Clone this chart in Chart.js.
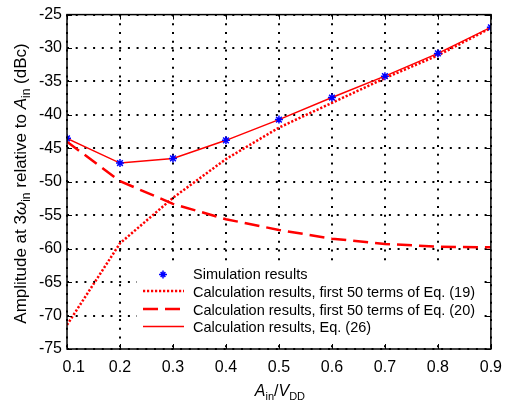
<!DOCTYPE html>
<html>
<head>
<meta charset="utf-8">
<script src="https://cdn.jsdelivr.net/npm/chart.js@4"></script>
<style>
html,body{margin:0;padding:0;background:#fff;}
canvas{display:block;}
</style>
</head>
<body>
<canvas id="c" width="511" height="403"></canvas>
<script>
// ---- data ----
const xValues = [0.1, 0.2, 0.3, 0.4, 0.5, 0.6, 0.7, 0.8, 0.9];
const simulation = [-43.5, -47.2, -46.5, -43.8, -40.7, -37.4, -34.2, -30.8, -26.9];
const eq19 = [-71.4, -59.2, -52.4, -46.6, -41.9, -38.2, -34.5, -31.1, -27.0];
const eq20 = [-44.0, -49.9, -53.3, -55.6, -57.2, -58.5, -59.3, -59.7, -59.8];
const eq26 = [-43.5, -47.2, -46.5, -43.8, -40.7, -37.4, -34.2, -30.8, -26.9];
const xTicks = [0.1, 0.2, 0.3, 0.4, 0.5, 0.6, 0.7, 0.8, 0.9];
const xTickLabels = ['0.1', '0.2', '0.3', '0.4', '0.5', '0.6', '0.7', '0.8', '0.9'];
const yTicks = [-75, -70, -65, -60, -55, -50, -45, -40, -35, -30, -25];
const yTickLabels = ['-75', '-70', '-65', '-60', '-55', '-50', '-45', '-40', '-35', '-30', '-25'];
const legendLabels = [
  'Simulation results',
  'Calculation results, first 50 terms of Eq. (19)',
  'Calculation results, first 50 terms of Eq. (20)',
  'Calculation results, Eq. (26)'
];

const FONT = '"Liberation Sans", Arial, sans-serif';
const pts = (ys) => xValues.map((x, i) => ({x: x, y: ys[i]}));

function drawRich(ctx, parts, x, y, align, size) {
  const sub = Math.round(size * 0.68);
  const fontFor = (s) => s === 'i' ? 'italic ' + size + 'px ' + FONT : (s === 's' ? sub + 'px ' + FONT : size + 'px ' + FONT);
  let total = 0;
  parts.forEach(p => { ctx.font = fontFor(p.style); p.w = ctx.measureText(p.t).width; total += p.w; });
  let cx = align === 'center' ? x - total / 2 : x;
  ctx.textAlign = 'left';
  ctx.textBaseline = 'alphabetic';
  parts.forEach(p => {
    ctx.font = fontFor(p.style);
    ctx.fillText(p.t, cx, y + (p.style === 's' ? size * 0.25 : 0));
    cx += p.w;
  });
}

const decorPlugin = {
  id: 'decor',
  afterDatasetsDraw(chart) {
    const ctx = chart.ctx;
    const ca = chart.chartArea;
    const xs = chart.scales.x, ys = chart.scales.y;
    ctx.save();
    // legend box
    const lx = 137, ly = 262, lw = 346, lh = 78;
    ctx.fillStyle = '#fff';
    ctx.fillRect(lx, ly, lw, lh);
    const rowY = [274.5, 292.5, 310.5, 328];
    const ds = chart.data.datasets;
    for (let i = 0; i < 4; i++) {
      const d = ds[i];
      const y = rowY[i];
      if (i === 0) {
        ctx.strokeStyle = d.borderColor;
        ctx.lineWidth = 1.5;
        ctx.setLineDash([]);
        const r = 4;
        ctx.beginPath();
        ctx.moveTo(163, y - r); ctx.lineTo(163, y + r);
        ctx.moveTo(163 - r, y); ctx.lineTo(163 + r, y);
        const q = r * 0.6;
        ctx.moveTo(163 - q, y - q); ctx.lineTo(163 + q, y + q);
        ctx.moveTo(163 - q, y + q); ctx.lineTo(163 + q, y - q);
        ctx.stroke();
      } else {
        ctx.strokeStyle = d.borderColor;
        ctx.lineWidth = d.borderWidth;
        ctx.setLineDash(d.borderDash || []);
        ctx.beginPath();
        ctx.moveTo(143, y - 1.5); ctx.lineTo(184, y - 1.5);
        ctx.stroke();
      }
      ctx.setLineDash([]);
      ctx.fillStyle = '#000';
      ctx.font = '14.5px ' + FONT;
      ctx.textAlign = 'left';
      ctx.textBaseline = 'middle';
      ctx.fillText(legendLabels[i], 193, y);
    }
    // box
    ctx.strokeStyle = '#000';
    ctx.lineWidth = 1.5;
    ctx.setLineDash([]);
    ctx.strokeRect(ca.left, ca.top, ca.right - ca.left, ca.bottom - ca.top);
    // inner ticks
    ctx.lineWidth = 1;
    ctx.beginPath();
    xTicks.forEach(v => {
      const px = Math.round(xs.getPixelForValue(v)) + 0.5;
      ctx.moveTo(px, ca.bottom); ctx.lineTo(px, ca.bottom - 5);
      ctx.moveTo(px, ca.top); ctx.lineTo(px, ca.top + 5);
    });
    yTicks.forEach(v => {
      const py = Math.round(ys.getPixelForValue(v)) + 0.5;
      ctx.moveTo(ca.left, py); ctx.lineTo(ca.left + 5, py);
      ctx.moveTo(ca.right, py); ctx.lineTo(ca.right - 5, py);
    });
    ctx.stroke();
    // axis titles
    ctx.fillStyle = '#000';
    drawRich(ctx, [
      {t: 'A', style: 'i'}, {t: 'in', style: 's'}, {t: '/', style: 'n'},
      {t: 'V', style: 'i'}, {t: 'DD', style: 's'}
    ], (ca.left + ca.right) / 2 + 1, 396, 'center', 16);
    ctx.save();
    ctx.translate(26, 183.5);
    ctx.rotate(-Math.PI / 2);
    drawRich(ctx, [
      {t: 'Amplitude at 3', style: 'n'}, {t: 'ω', style: 'i'}, {t: 'in', style: 's'},
      {t: ' relative to ', style: 'n'}, {t: 'A', style: 'i'}, {t: 'in', style: 's'},
      {t: ' (dBc)', style: 'n'}
    ], 0, 0, 'center', 17);
    ctx.restore();
    ctx.restore();
  }
};

new Chart(document.getElementById('c'), {
  type: 'line',
  data: {
    datasets: [
      {
        label: legendLabels[0], data: pts(simulation), showLine: false,
        pointStyle: 'star', pointRadius: 4, pointBorderWidth: 1.5,
        borderColor: '#0000ff', backgroundColor: '#0000ff'
      },
      {
        label: legendLabels[1], data: pts(eq19), borderColor: '#ff0000',
        borderWidth: 2.5, borderDash: [2.2, 1.8], pointRadius: 0, fill: false, tension: 0
      },
      {
        label: legendLabels[2], data: pts(eq20), borderColor: '#ff0000',
        borderWidth: 2.5, borderDash: [15, 7], pointRadius: 0, fill: false, tension: 0
      },
      {
        label: legendLabels[3], data: pts(eq26), borderColor: '#ff0000',
        borderWidth: 1.5, pointRadius: 0, fill: false, tension: 0
      }
    ]
  },
  options: {
    responsive: false,
    animation: false,
    devicePixelRatio: 1,
    layout: {padding: {left: 0, right: 13, top: 12, bottom: 0}},
    plugins: {legend: {display: false}, tooltip: {enabled: false}, title: {display: false}},
    scales: {
      x: {
        type: 'linear', min: 0.1, max: 0.9,
        afterBuildTicks: (s) => { s.ticks = xTicks.map(v => ({value: v})); },
        afterFit: (s) => { s.height = 54; },
        ticks: {
          color: '#000', font: {family: FONT, size: 16}, padding: 9, maxRotation: 0, autoSkip: false,
          callback: (v, i) => (i === 0 ? '   ' : '') + xTickLabels[i]
        },
        grid: {color: '#000', lineWidth: 2, drawTicks: false},
        border: {display: false, dash: [2, 6.7]}
      },
      y: {
        type: 'linear', min: -75, max: -25,
        afterBuildTicks: (s) => { s.ticks = yTicks.map(v => ({value: v})); },
        afterFit: (s) => { s.width = 67; },
        ticks: {
          color: '#000', font: {family: FONT, size: 16}, padding: 5, autoSkip: false,
          callback: (v, i) => yTickLabels[i]
        },
        grid: {color: '#000', lineWidth: 2, drawTicks: false},
        border: {display: false, dash: [2, 6.7]}
      }
    }
  },
  plugins: [decorPlugin]
});
</script>
</body>
</html>
